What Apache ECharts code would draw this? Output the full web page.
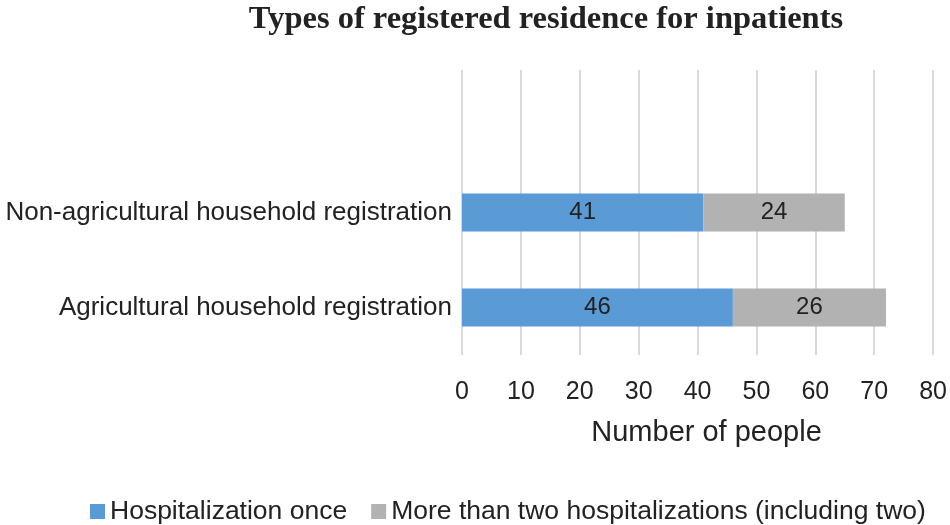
<!DOCTYPE html>
<html><head><meta charset="utf-8">
<script src="https://cdn.jsdelivr.net/npm/echarts@6/dist/echarts.min.js"></script>
<style>html,body{margin:0;padding:0;background:#fff}#c{width:950px;height:525px}</style>
</head><body><div id="c"></div>
<script>
const categories = ['Agricultural household registration', 'Non-agricultural household registration', ''];
const once = [46, 41, null];
const twoPlus = [26, 24, null];
const seriesNames = ['Hospitalization once', 'More than two hospitalizations (including two)'];

const chart = echarts.init(document.getElementById('c'));
const lbl = {show: true, position: 'inside', color: '#222', fontSize: 24, fontFamily: 'Liberation Sans'};
chart.setOption({
  animation: false,
  title: {text: 'Types of registered residence for inpatients', left: 541, textAlign: 'center', top: 0, padding: [3, 5, 5, 5],
    textStyle: {fontFamily: 'Liberation Serif', fontWeight: 'bold', fontSize: 32.5, color: '#222'}},
  legend: {bottom: 0, left: 90, padding: [0, 0, 0, 0], itemWidth: 15, itemHeight: 15, itemGap: 24, icon: 'rect',
    textStyle: {fontFamily: 'Liberation Sans', fontSize: 26.5, color: '#222', padding: [0, 0, 0, 0]}, data: seriesNames},
  grid: {left: 462, right: 16, top: 70, bottom: 170},
  xAxis: {type: 'value', min: 0, max: 80, interval: 10,
    name: 'Number of people', nameLocation: 'middle', nameGap: 63,
    nameTextStyle: {fontFamily: 'Liberation Sans', fontSize: 29, color: '#222', padding: [0, 0, 0, 18]},
    axisLabel: {fontFamily: 'Liberation Sans', fontSize: 25, color: '#222', margin: 25},
    axisLine: {show: false}, axisTick: {show: false},
    splitLine: {lineStyle: {color: '#d9d9d9', width: 2}}},
  yAxis: {type: 'category', data: categories, axisLine: {show: false}, axisTick: {show: false},
    axisLabel: {fontFamily: 'Liberation Sans', fontSize: 26, color: '#222', margin: 10}},
  series: [
    {name: seriesNames[0], type: 'bar', stack: 's', data: once, barWidth: '40%', itemStyle: {color: '#5b9bd5'}, label: lbl},
    {name: seriesNames[1], type: 'bar', stack: 's', data: twoPlus, barWidth: '40%', itemStyle: {color: '#b2b2b2'}, label: lbl}
  ]
});
</script></body></html>
